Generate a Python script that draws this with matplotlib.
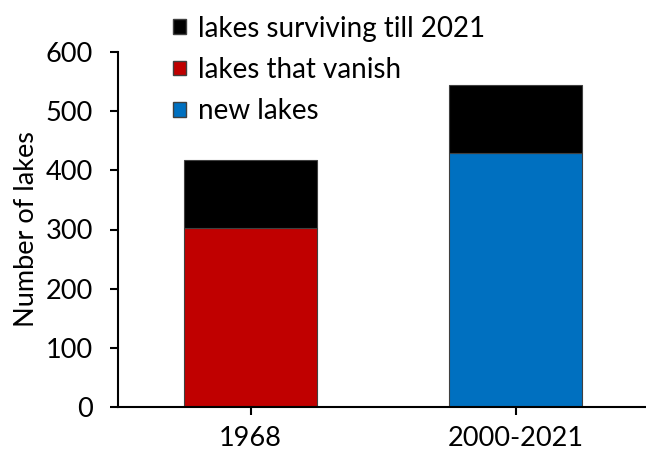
import matplotlib.pyplot as plt
from matplotlib.patches import Patch

plt.rcParams['font.family'] = ['Lato', 'DejaVu Sans']

# data
periods = ["1968", "2000-2021"]
base_values = [303, 430]          # vanished lakes (1968), new lakes (2000-2021)
surviving = [115, 114]            # lakes surviving till 2021, stacked on top
base_colors = ["#C00000", "#0070C0"]

fig = plt.figure(figsize=(6.46, 4.5), dpi=100)
ax = fig.add_axes([0.183, 0.0956, 0.82, 0.7888])

x = range(len(periods))
ax.bar(x, base_values, width=0.5, color=base_colors, edgecolor="#404040", linewidth=0.8)
ax.bar(x, surviving, bottom=base_values, width=0.5, color="black",
       edgecolor="#404040", linewidth=0.8)

ax.set_xlim(-0.5, 1.5)
ax.set_ylim(0, 600)
ax.set_yticks(range(0, 601, 100))
ax.set_xticks(list(x))
ax.set_xticklabels(periods)
ax.set_ylabel("Number of lakes", fontsize=19.5, labelpad=5)

for s in ["top", "right"]:
    ax.spines[s].set_visible(False)
for s in ["left", "bottom"]:
    ax.spines[s].set_linewidth(1.5)
ax.tick_params(axis="both", labelsize=19.5, width=1.5, length=6, direction="out")
ax.tick_params(axis="y", pad=12)
ax.tick_params(axis="x", pad=8)

handles = [Patch(facecolor="black", edgecolor="#404040", label="lakes surviving till 2021"),
           Patch(facecolor="#C00000", edgecolor="#404040", label="lakes that vanish"),
           Patch(facecolor="#0070C0", edgecolor="#404040", label="new lakes")]
fig.legend(handles=handles, loc="upper left", bbox_to_anchor=(0.251, 0.99),
           frameon=False, fontsize=20, handlelength=0.45, handleheight=0.45,
           handletextpad=0.45, labelspacing=0.55, borderaxespad=0)

fig.savefig("out.png", dpi=100)
